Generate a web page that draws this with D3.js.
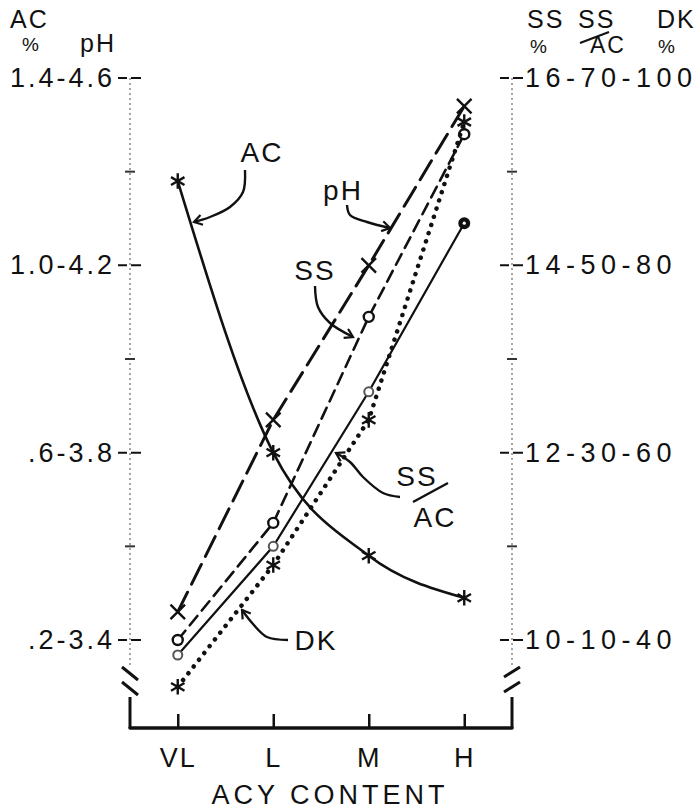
<!DOCTYPE html>
<html>
<head>
<meta charset="utf-8">
<script src="https://cdn.jsdelivr.net/npm/d3@7"></script>
<style>
  body { margin: 0; background: #fff; }
  svg text { font-family: "Liberation Sans", Arial, sans-serif; fill: #111; }
</style>
</head>
<body>
<svg width="697" height="812"></svg>
<script>
// Values
const categories = ["VL", "L", "M", "H"];
const acPct = [1.18, 0.60, 0.38, 0.29];     // AC %   (left scale)
const phVals = [3.46, 3.87, 4.20, 4.54];    // pH     (left scale)
const ssPct = [10.0, 11.25, 13.45, 15.4];   // SS %   (right scale)
const ssAcRatio = [8.4, 20, 36.5, 54.5];    // SS/AC  (right scale)
const dkPct = [35, 48, 63.5, 95.3];         // DK %   (right scale)

// Tick values and labels
const acTicks = [0.2, 0.6, 1.0, 1.4];
const acMinor = [0.4, 0.8, 1.2];
const acTickLabels = [".2", ".6", "1.0", "1.4"];
const phTickLabels = ["3.4", "3.8", "4.2", "4.6"];
const ssTicks = [10, 12, 14, 16];
const ssTickLabels = ["10", "12", "14", "16"];
const ratioTickLabels = ["10", "30", "50", "70"];
const dkTickLabels = ["40", "60", "80", "100"];

// Layout
const leftX = 130, rightX = 512, topY = 78, baseY = 640, axisY = 728;
const breakTop = 667, breakBottom = 697;
const ink = "#111";

const svg = d3.select("svg");

// Scales
const x = d3.scalePoint().domain(categories).range([leftX, rightX]).padding(0.5);
const yAC = d3.scaleLinear().domain([0.2, 1.4]).range([baseY, topY]);
const yPH = d3.scaleLinear().domain([3.4, 4.6]).range([baseY, topY]);
const ySS = d3.scaleLinear().domain([10, 16]).range([baseY, topY]);
const yRatio = d3.scaleLinear().domain([10, 70]).range([baseY, topY]);
const yDK = d3.scaleLinear().domain([40, 100]).range([baseY, topY]);

// Vertical axes: faint dotted above the break, solid below it
[leftX, rightX].forEach((ax, k) => {
    svg.append("line")
        .attr("x1", ax).attr("x2", ax).attr("y1", topY).attr("y2", breakTop)
        .attr("stroke", "#888").attr("stroke-width", 1.5)
        .attr("stroke-dasharray", "2 3");
    svg.append("line")
        .attr("x1", ax).attr("x2", ax).attr("y1", breakBottom).attr("y2", axisY)
        .attr("stroke", ink).attr("stroke-width", 3);
    // break marks
    [0, 15].forEach(off => {
        const y0 = breakTop + off;
        svg.append("line")
            .attr("x1", ax - 8).attr("y1", k === 0 ? y0 : y0 + 10)
            .attr("x2", ax + 8).attr("y2", k === 0 ? y0 + 13 : y0)
            .attr("stroke", ink).attr("stroke-width", 3);
    });
    // cross ticks
    svg.append("g").selectAll("line")
        .data(acTicks)
        .join("line")
        .attr("x1", ax - 12).attr("x2", ax + 11)
        .attr("y1", d => yAC(d)).attr("y2", d => yAC(d))
        .attr("stroke", ink).attr("stroke-width", 2)
        .attr("stroke-dasharray", "9 4 10");
    svg.append("g").selectAll("line")
        .data(acMinor)
        .join("line")
        .attr("x1", ax - 5).attr("x2", ax + 5)
        .attr("y1", d => yAC(d)).attr("y2", d => yAC(d))
        .attr("stroke", "#333").attr("stroke-width", 2);
});

// Left tick labels (AC % - pH)
svg.append("g")
    .attr("transform", `translate(${leftX},0)`)
    .call(d3.axisLeft(yAC).tickValues(acTicks).tickSize(0).tickPadding(15)
        .tickFormat((d, i) => `${acTickLabels[i]}-${phTickLabels[i]}`))
    .call(g => g.select(".domain").remove())
    .selectAll("text")
    .style("font-size", "27px")
    .style("letter-spacing", "3px");

// Right tick labels (SS % - SS/AC - DK %)
svg.append("g")
    .attr("transform", `translate(${rightX},0)`)
    .call(d3.axisRight(ySS).tickValues(ssTicks).tickSize(0).tickPadding(13)
        .tickFormat((d, i) => `${ssTickLabels[i]}-${ratioTickLabels[i]}-${dkTickLabels[i]}`))
    .call(g => g.select(".domain").remove())
    .selectAll("text")
    .style("font-size", "27px")
    .style("letter-spacing", "5.5px");

// Bottom axis
svg.append("line")
    .attr("x1", leftX).attr("x2", rightX).attr("y1", axisY).attr("y2", axisY)
    .attr("stroke", ink).attr("stroke-width", 3.5).attr("stroke-linecap", "round");

svg.append("g")
    .attr("transform", `translate(0,${axisY})`)
    .call(d3.axisBottom(x).tickSize(-14).tickPadding(20))
    .call(g => g.select(".domain").remove())
    .call(g => g.selectAll(".tick line").attr("stroke", ink).attr("stroke-width", 2.5))
    .selectAll("text")
    .style("font-size", "27px")
    .style("letter-spacing", "2px");

svg.append("text")
    .attr("x", 330).attr("y", 804)
    .attr("text-anchor", "middle")
    .style("font-size", "27px")
    .style("letter-spacing", "4px")
    .text("ACY CONTENT");

// Axis headers
const headers = [
    { t: "AC", x: 10, y: 28, s: 25 },
    { t: "%", x: 22, y: 51, s: 19 },
    { t: "pH", x: 80, y: 52, s: 25 },
    { t: "SS", x: 527, y: 28, s: 25 },
    { t: "SS", x: 578, y: 28, s: 25 },
    { t: "DK", x: 657, y: 28, s: 25 },
    { t: "%", x: 530, y: 53, s: 19 },
    { t: "AC", x: 590, y: 53, s: 23 },
    { t: "%", x: 658, y: 53, s: 19 }
];
svg.append("g").selectAll("text")
    .data(headers)
    .join("text")
    .attr("x", d => d.x).attr("y", d => d.y)
    .style("font-size", d => d.s + "px")
    .style("letter-spacing", "2px")
    .text(d => d.t);
svg.append("line")
    .attr("x1", 580).attr("y1", 43).attr("x2", 609).attr("y2", 32)
    .attr("stroke", ink).attr("stroke-width", 2);

// Series
const series = [
    { name: "AC", values: acPct, y: yAC, dash: null, width: 2.6, curve: d3.curveMonotoneX, marker: "star" },
    { name: "pH", values: phVals, y: yPH, dash: "22 9", width: 3, curve: d3.curveLinear, marker: "times" },
    { name: "SS", values: ssPct, y: ySS, dash: "12 7", width: 2.6, curve: d3.curveLinear, marker: "circle" },
    { name: "SS/AC", values: ssAcRatio, y: yRatio, dash: null, width: 2.2, curve: d3.curveLinear, marker: "dot" },
    { name: "DK", values: dkPct, y: yDK, dash: "0.1 8.5", width: 4.5, curve: d3.curveLinear, marker: "star" }
];

series.forEach(s => {
    const pts = categories.map((c, i) => [x(c), s.y(s.values[i])]);
    const line = d3.line().curve(s.curve);
    svg.append("path")
        .attr("d", line(pts))
        .attr("fill", "none")
        .attr("stroke", ink)
        .attr("stroke-width", s.width)
        .attr("stroke-linecap", "round")
        .attr("stroke-dasharray", s.dash);

    const g = svg.append("g");
    pts.forEach((p, i) => {
        if (s.marker === "star" || s.marker === "times") {
            g.append("path")
                .attr("transform", `translate(${p[0]},${p[1]})`)
                .attr("d", d3.symbol(s.marker === "star" ? d3.symbolAsterisk : d3.symbolTimes,
                    s.marker === "star" ? 170 : 140)())
                .attr("fill", "none")
                .attr("stroke", ink)
                .attr("stroke-width", 2.4);
        } else if (s.marker === "circle") {
            g.append("circle")
                .attr("cx", p[0]).attr("cy", p[1]).attr("r", 5)
                .attr("fill", "#fff").attr("stroke", ink).attr("stroke-width", 2.4);
        } else {
            const last = i === pts.length - 1;
            g.append("circle")
                .attr("cx", p[0]).attr("cy", p[1]).attr("r", last ? 5 : 4.5)
                .attr("fill", last ? ink : "#fff")
                .attr("stroke", last ? ink : "#555").attr("stroke-width", 2);
            if (last) {
                g.append("circle").attr("cx", p[0]).attr("cy", p[1]).attr("r", 1.6).attr("fill", "#fff");
            }
        }
    });
});

// Arrowhead for the label pointers
svg.append("defs").append("marker")
    .attr("id", "arrow")
    .attr("viewBox", "-10 -6 12 12")
    .attr("markerWidth", 12).attr("markerHeight", 12)
    .attr("markerUnits", "userSpaceOnUse")
    .attr("orient", "auto")
    .append("path")
    .attr("d", "M-8,-5 L0,0 L-8,5")
    .attr("fill", "none")
    .attr("stroke", ink)
    .attr("stroke-width", 2.2);

// Series labels with curved pointers
const labels = [
    { t: "AC", x: 262, y: 162, path: [[245, 170], [243, 192], [230, 207], [210, 217], [194, 222]] },
    { t: "pH", x: 343, y: 200, path: [[347, 205], [350, 215], [367, 222], [390, 228]] },
    { t: "SS", x: 315, y: 280, path: [[315, 286], [318, 307], [330, 323], [353, 337]] },
    { t: "DK", x: 316, y: 650, path: [[288, 640], [267, 637], [253, 624], [242, 610]] },
    { t: "SS", x: 417, y: 486, path: [[400, 497], [383, 493], [363, 477], [350, 462], [336, 453]] }
];
labels.forEach(l => {
    svg.append("text")
        .attr("x", l.x).attr("y", l.y)
        .attr("text-anchor", "middle")
        .style("font-size", "28px")
        .style("letter-spacing", "2px")
        .text(l.t);
    svg.append("path")
        .attr("d", d3.line().curve(d3.curveCatmullRom)(l.path))
        .attr("fill", "none")
        .attr("stroke", ink)
        .attr("stroke-width", 2.4)
        .attr("marker-end", "url(#arrow)");
});
// lower half of the SS/AC label
svg.append("line")
    .attr("x1", 413).attr("y1", 502).attr("x2", 448).attr("y2", 483)
    .attr("stroke", ink).attr("stroke-width", 2.4);
svg.append("text")
    .attr("x", 435).attr("y", 527)
    .attr("text-anchor", "middle")
    .style("font-size", "28px")
    .style("letter-spacing", "2px")
    .text("AC");
</script>
</body>
</html>
